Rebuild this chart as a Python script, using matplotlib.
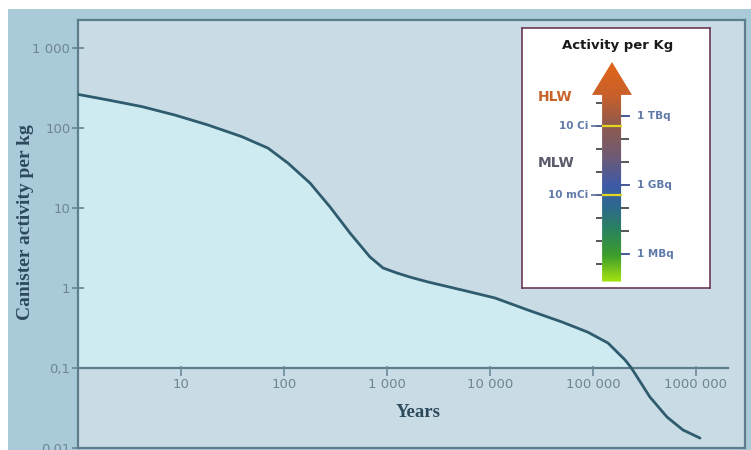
import numpy as np
import matplotlib
matplotlib.use("Agg")
import matplotlib.pyplot as plt
from matplotlib.colors import LinearSegmentedColormap
from matplotlib.patches import Rectangle, Polygon

# curve
years = [1, 1.96, 4.18, 8.75, 18.3, 39.1, 70, 109, 179, 280, 437, 684, 915,
         1250, 1670, 2500, 5350, 11200, 23400, 50000, 89400, 140000, 205000,
         236000, 357000, 523000, 748000, 1094000]
activity = [263, 224, 185, 145, 109, 77.8, 56, 36.5, 20.5, 10.3, 4.87, 2.44, 1.78,
            1.54, 1.37, 1.19, 0.944, 0.75, 0.53, 0.376, 0.28, 0.205, 0.126,
            0.1, 0.0434, 0.0244, 0.0168, 0.0133]

x_ticks = [10, 100, 1000, 10000, 100000, 1000000]
x_labels = ["10", "100", "1 000", "10 000", "100 000", "1000 000"]
y_ticks = [0.01, 0.1, 1, 10, 100, 1000]
y_labels = ["0,01", "0,1", "1", "10", "100", "1 000"]

# inset scale, log10 of Bq per kg
ci_ticks = np.log10(3.7e10 * np.array([100, 10, 1, 0.1, 0.01, 0.001, 1e-4, 1e-5]))
bq_ticks = [12, 11, 10, 9, 8, 7, 6]
ci_labels = {np.log10(3.7e11): "10 Ci", np.log10(3.7e8): "10 mCi"}
bq_labels = {12: "1 TBq", 9: "1 GBq", 6: "1 MBq"}

W, H = 751, 450
fig = plt.figure(figsize=(W / 100, H / 100), dpi=100)
fig.patch.set_facecolor("white")
fig.patches.append(Rectangle((8 / W, 0), 1, 1 - 9 / H, transform=fig.transFigure,
                             facecolor="#a9cad8", edgecolor="none", zorder=-5))

ax = fig.add_axes([78 / W, 2 / H, 667 / W, 428 / H])
ax.set_facecolor("#c9dce5")
ax.set_xscale("log")
ax.set_yscale("log")
ax.set_xlim(1, 10 ** 6.476)
ax.set_ylim(0.01, 10 ** 3.35)
for s in ax.spines.values():
    s.set_color("#5d7d8d")
    s.set_linewidth(1.6)

act = np.array(activity)
ax.fill_between(years, np.maximum(act, 0.1), 0.1, color="#cdebf0", lw=0, zorder=1)
ax.plot(years, activity, color="#2f5b6e", lw=2, zorder=3,
        solid_capstyle="round", solid_joinstyle="round")

# x axis drawn at 0.1
ax.plot([1, 10 ** 6.31], [0.1, 0.1], color="#5d7d8d", lw=1.6, zorder=2)
ax.vlines(x_ticks, 10 ** (-1 - 8 / 80), 10 ** (-1 + 2 / 80), color="#6e8a99", lw=1.2, zorder=2)
for xt, lb in zip(x_ticks, x_labels):
    ax.text(xt, 10 ** (-1.2), lb, ha="center", va="center", fontsize=9.5,
            color="#6f8594", family="DejaVu Sans")
ax.set_xticks([])
ax.minorticks_off()
ax.set_yticks(y_ticks)
ax.set_yticklabels(y_labels)
ax.tick_params(axis="y", which="major", direction="inout", length=9, width=1.3,
               color="#6e8a99", labelcolor="#6f8594", labelsize=9.5, pad=1)
ax.tick_params(axis="y", which="minor", length=0)

ax.text(0.51, 0.082, "Years", transform=ax.transAxes, ha="center", va="center",
        fontsize=13.5, fontweight="bold", color="#2c4a5c", family="Liberation Serif")
fig.text(25 / W, 1 - 222 / H, "Canister activity per kg", rotation=90, ha="center",
         va="center", fontsize=14, fontweight="bold", color="#2c4a5c",
         family="Liberation Serif")

# inset "Activity per Kg"
ins = fig.add_axes([522 / W, 1 - 288 / H, 188 / W, 260 / H])
ins.set_xlim(0, 1)
ins.set_ylim(4.52, 15.83)
ins.set_xticks([])
ins.set_yticks([])
ins.set_facecolor("white")
for s in ins.spines.values():
    s.set_color("#6b3a55")
    s.set_linewidth(1.2)

bx0, bx1 = 0.426, 0.527
hx0, hx1 = 0.372, 0.585
tip, hbase, bot = 14.35, 12.92, 4.8
cmap = LinearSegmentedColormap.from_list("act", [
    (0.0, "#a6e410"), (0.12, "#3c9c2c"), (0.24, "#2a8260"), (0.34, "#2e6a8e"),
    (0.44, "#3e5aa6"), (0.58, "#725a72"), (0.71, "#8e5a4e"), (0.85, "#c8602a"),
    (1.0, "#e0661a")])
grad = np.linspace(0, 1, 256).reshape(-1, 1)
im = ins.imshow(grad, cmap=cmap, aspect="auto", origin="lower",
                extent=[hx0, hx1, bot, tip], zorder=2)
arrow = Polygon([(bx0, bot), (bx1, bot), (bx1, hbase), (hx1, hbase), ((hx0 + hx1) / 2, tip),
                 (hx0, hbase), (bx0, hbase)], closed=True, transform=ins.transData,
                facecolor="none", edgecolor="none")
ins.add_patch(arrow)
im.set_clip_path(arrow)

for yv in ci_labels:
    ins.plot([bx0, bx1], [yv, yv], color="#e0d820", lw=1.6, zorder=3)
ins.hlines(ci_ticks, bx0 - 0.035, bx0, color="#3a3a3a", lw=1.2, zorder=3)
ins.hlines(bq_ticks, bx1, bx1 + 0.04, color="#3a3a3a", lw=1.2, zorder=3)
for yv, lb in ci_labels.items():
    ins.hlines(yv, bx0 - 0.06, bx0, color="#5a6a9a", lw=1.2, zorder=3)
    ins.text(0.355, yv, lb, ha="right", va="center", fontsize=7.5, fontweight="bold",
             color="#5f7aa8")
for yv, lb in bq_labels.items():
    ins.hlines(yv, bx1, bx1 + 0.05, color="#4a5aa0", lw=1.3, zorder=3)
    ins.text(0.61, yv, lb, ha="left", va="center", fontsize=7.5, fontweight="bold",
             color="#5f7aa8")

ins.text(0.085, 12.83, "HLW", ha="left", va="center", fontsize=10, fontweight="bold",
         color="#c8642a")
ins.text(0.085, 9.96, "MLW", ha="left", va="center", fontsize=10, fontweight="bold",
         color="#5a5c6c")
ins.text(0.51, 15.09, "Activity per Kg", ha="center", va="center", fontsize=9.5,
         fontweight="bold", color="#1a1a1a")

fig.savefig("out.png", dpi=100)
